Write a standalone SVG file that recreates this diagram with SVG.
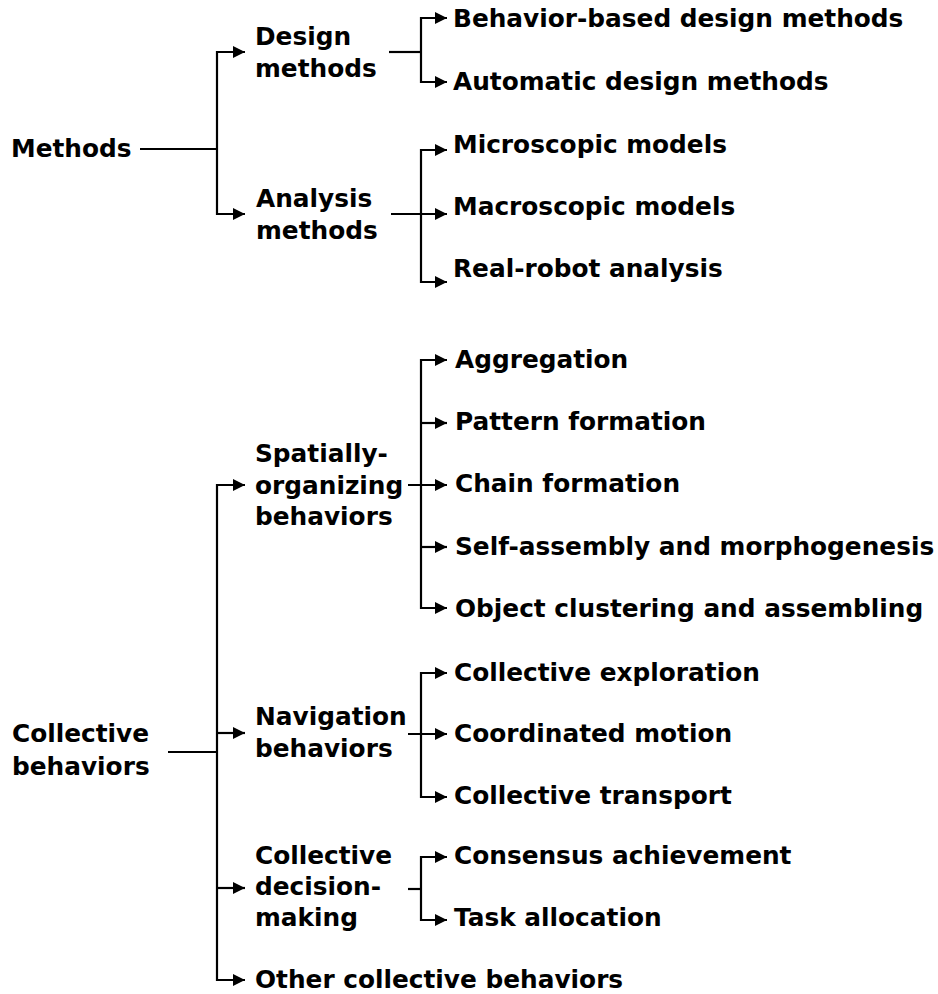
<svg xmlns="http://www.w3.org/2000/svg" width="938" height="994" viewBox="0 0 938 994">
<defs>
<style>
text{font-family:"DejaVu Sans",sans-serif;font-weight:bold;font-size:24.8px;fill:#000}
.c{fill:none;stroke:#000;stroke-width:2.2}
</style>
<marker id="ah" viewBox="0 0 10 10" refX="10" refY="5" markerWidth="12" markerHeight="12" markerUnits="userSpaceOnUse" orient="auto"><path d="M0,0L10,5L0,10z" fill="#000"/></marker>
</defs>
<rect width="938" height="994" fill="#fff"/>
<g id="connectors">
<path class="c" d="M140,149H217"/>
<path class="c" d="M217,149V214H245" marker-end="url(#ah)"/>
<path class="c" d="M217,149V52H245" marker-end="url(#ah)"/>
<path class="c" d="M389,52H421"/>
<path class="c" d="M421,52V18H447" marker-end="url(#ah)"/>
<path class="c" d="M421,52V82H447" marker-end="url(#ah)"/>
<path class="c" d="M391,214H447" marker-end="url(#ah)"/>
<path class="c" d="M421,214V150H447" marker-end="url(#ah)"/>
<path class="c" d="M421,214V282H447" marker-end="url(#ah)"/>
<path class="c" d="M168,752H217"/>
<path class="c" d="M217,752V485H245" marker-end="url(#ah)"/>
<path class="c" d="M217,733H245" marker-end="url(#ah)"/>
<path class="c" d="M217,888H245" marker-end="url(#ah)"/>
<path class="c" d="M217,752V980H245" marker-end="url(#ah)"/>
<path class="c" d="M408,485H447" marker-end="url(#ah)"/>
<path class="c" d="M421,485V360H447" marker-end="url(#ah)"/>
<path class="c" d="M421,423H447" marker-end="url(#ah)"/>
<path class="c" d="M421,547H447" marker-end="url(#ah)"/>
<path class="c" d="M421,485V608H447" marker-end="url(#ah)"/>
<path class="c" d="M408,734H447" marker-end="url(#ah)"/>
<path class="c" d="M421,734V673H447" marker-end="url(#ah)"/>
<path class="c" d="M421,734V797H447" marker-end="url(#ah)"/>
<path class="c" d="M408,889H421"/>
<path class="c" d="M421,889V857H447" marker-end="url(#ah)"/>
<path class="c" d="M421,889V920H447" marker-end="url(#ah)"/>
</g>
<g id="n-methods"><text x="11" y="157">Methods</text></g>
<g id="n-design"><text x="255" y="45">Design</text><text x="255" y="77">methods</text></g>
<g id="n-analysis"><text x="256" y="207">Analysis</text><text x="256" y="239">methods</text></g>
<g id="n-behavior-based"><text x="453" y="27">Behavior-based design methods</text></g>
<g id="n-automatic"><text x="453" y="90">Automatic design methods</text></g>
<g id="n-micro"><text x="453" y="153">Microscopic models</text></g>
<g id="n-macro"><text x="453" y="215">Macroscopic models</text></g>
<g id="n-real"><text x="453" y="277">Real-robot analysis</text></g>
<g id="n-collective"><text x="12" y="742">Collective</text><text x="12" y="775">behaviors</text></g>
<g id="n-spatial"><text x="255" y="462">Spatially-</text><text x="255" y="494">organizing</text><text x="255" y="525">behaviors</text></g>
<g id="n-aggregation"><text x="455" y="368">Aggregation</text></g>
<g id="n-pattern"><text x="455" y="430">Pattern formation</text></g>
<g id="n-chain"><text x="455" y="492">Chain formation</text></g>
<g id="n-self"><text x="455" y="555">Self-assembly and morphogenesis</text></g>
<g id="n-object"><text x="455" y="617">Object clustering and assembling</text></g>
<g id="n-navigation"><text x="255" y="725">Navigation</text><text x="255" y="757">behaviors</text></g>
<g id="n-exploration"><text x="454" y="681">Collective exploration</text></g>
<g id="n-coordinated"><text x="454" y="742">Coordinated motion</text></g>
<g id="n-transport"><text x="454" y="804">Collective transport</text></g>
<g id="n-decision"><text x="255" y="864">Collective</text><text x="255" y="895">decision-</text><text x="255" y="926">making</text></g>
<g id="n-consensus"><text x="454" y="864">Consensus achievement</text></g>
<g id="n-task"><text x="454" y="926">Task allocation</text></g>
<g id="n-other"><text x="255" y="988">Other collective behaviors</text></g>
</svg>
